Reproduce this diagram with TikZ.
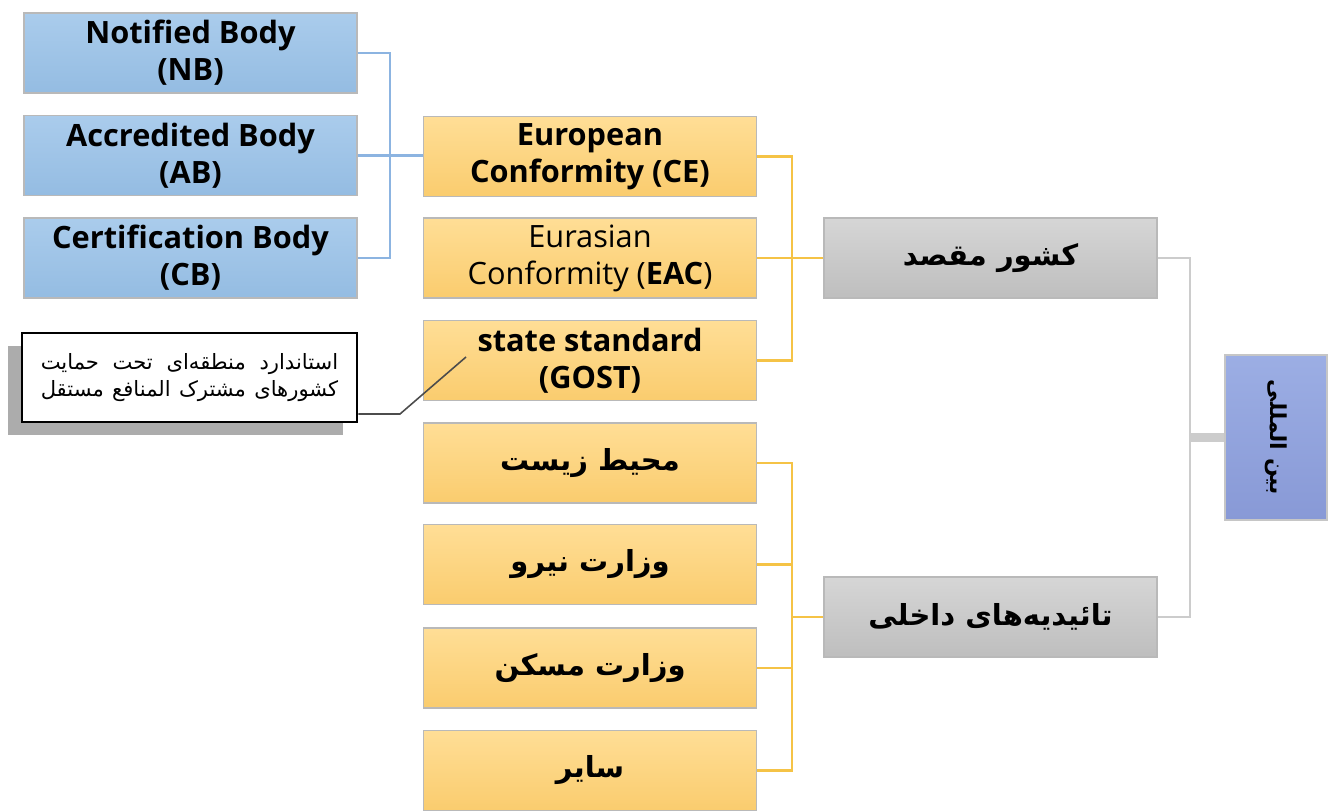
\documentclass[tikz,border=0pt]{standalone}
\usepackage{fontspec}
\setmainfont{Open Sans}
\newfontfamily\farsi[Script=Arabic]{DejaVu Sans}
\TeXXeTstate=1
\usetikzlibrary{shadows}
\newcommand{\fa}[1]{{\farsi\beginR #1\endR}}
\newcommand{\faline}[1]{\makebox[5.95cm][s]{\fa{#1}}}

\definecolor{bodytop}{RGB}{170,204,236}
\definecolor{bodybot}{RGB}{148,188,226}
\definecolor{certtop}{RGB}{255,222,150}
\definecolor{certbot}{RGB}{250,204,110}
\definecolor{grouptop}{RGB}{214,214,214}
\definecolor{groupbot}{RGB}{190,190,190}
\definecolor{roottop}{RGB}{156,174,228}
\definecolor{rootbot}{RGB}{136,153,214}
\definecolor{bluewire}{RGB}{140,180,225}
\definecolor{orangewire}{RGB}{245,195,70}

\begin{document}
\begin{tikzpicture}[
    x=0.02cm, y=-0.02cm,
    box/.style={draw=gray!55, line width=0.8pt, minimum width=6.66cm,
                minimum height=1.6cm, align=center, inner sep=2pt,
                font=\fontsize{17.5}{21}\selectfont\bfseries},
    bluebox/.style={box, top color=bodytop, bottom color=bodybot},
    orangebox/.style={box, top color=certtop, bottom color=certbot},
    greybox/.style={box, top color=grouptop, bottom color=groupbot},
    farsibox/.style={font=\fontsize{16.5}{20}\selectfont\bfseries},
    bluelink/.style={draw=bluewire, line width=1.2pt},
    orangelink/.style={draw=orangewire, line width=1.2pt},
    greylink/.style={draw=gray!40, line width=1.5pt},
    notebox/.style={draw=black, line width=1.5pt, fill=white, minimum width=6.7cm,
                    minimum height=1.78cm, align=center,
                    font=\fontsize{12}{15.5}\selectfont,
                    drop shadow={shadow xshift=-0.28cm, shadow yshift=-0.26cm,
                                 fill=gray!65, opacity=1}},
    noteline/.style={draw=gray!60!black, line width=0.9pt}
]
\useasboundingbox (0,0) rectangle (1333,811);

% =========================================================
% BODIES (blue, left column)
% =========================================================
\node[bluebox] (nb) at (190.5,53)  {Notified Body\\(NB)};
\node[bluebox] (ab) at (190.5,155.5) {Accredited Body\\(AB)};
\node[bluebox] (cb) at (190.5,258) {Certification Body\\(CB)};

% =========================================================
% CERTIFICATES (orange, middle column)
% =========================================================
\node[orangebox] (ce)   at (590,156.5) {European\\Conformity (CE)};
\node[orangebox, font=\fontsize{17.5}{21}\selectfont] (eac) at (590,258)
      {Eurasian\\Conformity (\textbf{EAC})};
\node[orangebox] (gost) at (590,360.5) {state standard\\(GOST)};
\node[orangebox, farsibox] (env)    at (590,463)   {\fa{محیط زیست}};
\node[orangebox, farsibox] (niroo)  at (590,564.5) {\fa{وزارت نیرو}};
\node[orangebox, farsibox] (maskan) at (590,668)   {\fa{وزارت مسکن}};
\node[orangebox, farsibox] (other)  at (590,770.5) {\fa{سایر}};

% =========================================================
% GROUPS (grey) and root (blue, right)
% =========================================================
\node[greybox, farsibox] (dest) at (990.5,258) {\fa{کشور مقصد}};
\node[greybox, farsibox] (dom)  at (990.5,617) {\fa{تائیدیه‌های داخلی}};

\node[draw=gray!45, line width=0.8pt, minimum width=2.04cm, minimum height=3.3cm,
      top color=roottop, bottom color=rootbot,
      font=\fontsize{12.5}{15}\selectfont\bfseries] (intl) at (1276,437.5)
      {\rotatebox{-90}{\fa{بین المللی}}};

% callout for GOST
\node[notebox] (note) at (189.5,377.5)
      {\faline{استاندارد منطقه‌ای تحت حمایت}\\
       \faline{کشورهای مشترک المنافع مستقل}};

% =========================================================
% CONNECTORS
% =========================================================
\coordinate (jb) at (390,155.5);
\draw[bluelink] (nb.east) -| (jb) |- (cb.east);
\draw[bluelink] (ab.east) -- (ce.west |- ab.east);

\coordinate (jd) at (792,258);
\draw[orangelink] (ce.east) -| (jd) |- (gost.east);
\draw[orangelink] (eac.east) -- (dest.west);

\coordinate (jm) at (792,617);
\draw[orangelink] (env.east) -| (jm) |- (other.east);
\draw[orangelink] (niroo.east) -| (jm);
\draw[orangelink] (maskan.east) -| (jm);
\draw[orangelink] (jm) -- (dom.west);

\coordinate (ji) at (1190,437.5);
\draw[greylink] (dest.east) -| (ji) |- (dom.east);
\draw[greylink, line width=5pt] (ji) -- (intl.west);

% callout leader
\coordinate (bend) at (400,414);
\coordinate (tip)  at (466,357);
\draw[noteline] (note.east |- bend) -- (bend) -- (tip);

\end{tikzpicture}
\end{document}
